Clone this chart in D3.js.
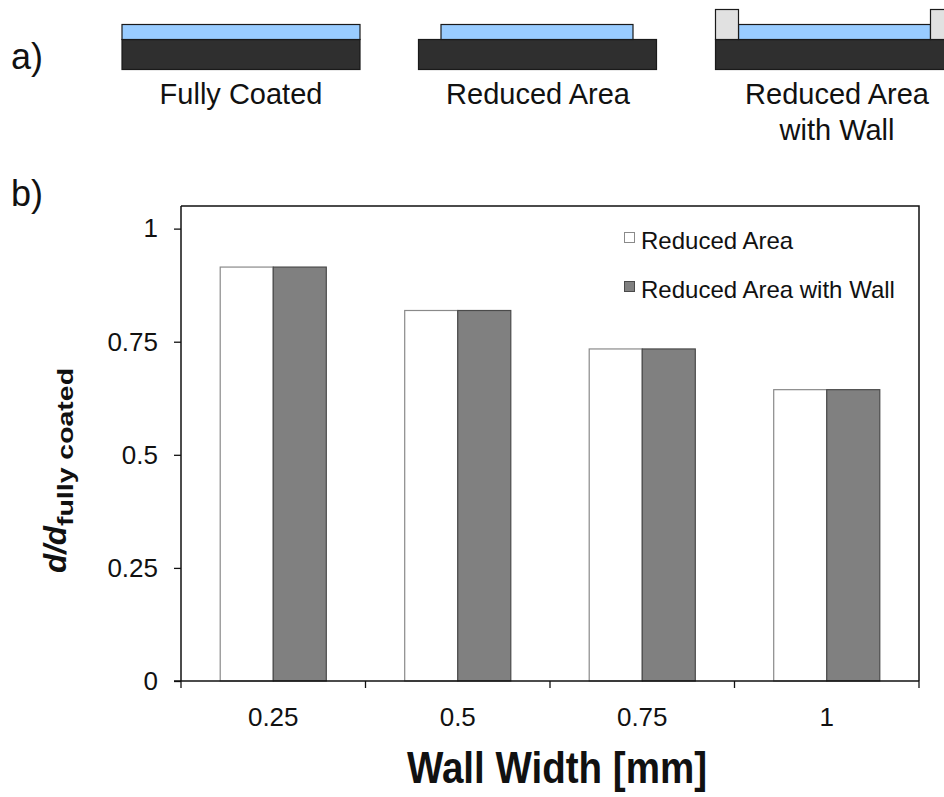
<!DOCTYPE html>
<html>
<head>
<meta charset="utf-8">
<script src="https://cdn.jsdelivr.net/npm/d3@7"></script>
<style>
  body { margin: 0; background: #fff; }
  svg { display: block; }
  text { font-family: "Liberation Sans", Arial, Helvetica, sans-serif; fill: #111; }
</style>
</head>
<body>
<svg id="chart" width="944" height="797"></svg>
<script>
// chart data
var categories = ["0.25", "0.5", "0.75", "1"];
var seriesNames = ["Reduced Area", "Reduced Area with Wall"];
var reducedArea = [0.915, 0.819, 0.734, 0.644];
var reducedAreaWall = [0.915, 0.819, 0.734, 0.644];
var yTicks = [0, 0.25, 0.5, 0.75, 1];
var yTickLabels = ["0", "0.25", "0.5", "0.75", "1"];
var sketchLabels = [["Fully Coated"], ["Reduced Area"], ["Reduced Area", "with Wall"]];

var svg = d3.select("#chart");

// ---- panel a: schematic sketches ----
svg.append("text").attr("x", 11).attr("y", 69).style("font-size", "36px").text("a)");
svg.append("text").attr("x", 11).attr("y", 206).style("font-size", "36px").text("b)");

var ink = "#1a1a1a", blue = "#99ccff", dark = "#2f2f2f", wall = "#e1e1e1";
var sk = svg.append("g").attr("class", "sketches");

// fully coated
sk.append("rect").attr("x", 122).attr("y", 39.5).attr("width", 238).attr("height", 30)
  .attr("fill", dark).attr("stroke", ink).attr("stroke-width", 1.2);
sk.append("rect").attr("x", 122).attr("y", 24.5).attr("width", 238).attr("height", 15)
  .attr("fill", blue).attr("stroke", ink).attr("stroke-width", 1.2);

// reduced area
sk.append("rect").attr("x", 418.5).attr("y", 39.5).attr("width", 238).attr("height", 30)
  .attr("fill", dark).attr("stroke", ink).attr("stroke-width", 1.2);
sk.append("rect").attr("x", 441).attr("y", 24.5).attr("width", 192).attr("height", 15)
  .attr("fill", blue).attr("stroke", ink).attr("stroke-width", 1.2);

// reduced area with wall
sk.append("rect").attr("x", 715.5).attr("y", 39.5).attr("width", 238).attr("height", 30)
  .attr("fill", dark).attr("stroke", ink).attr("stroke-width", 1.2);
sk.append("rect").attr("x", 738.5).attr("y", 24.5).attr("width", 192).attr("height", 15)
  .attr("fill", blue).attr("stroke", ink).attr("stroke-width", 1.2);
sk.append("rect").attr("x", 715.5).attr("y", 9.5).attr("width", 23).attr("height", 30)
  .attr("fill", wall).attr("stroke", ink).attr("stroke-width", 1.2);
sk.append("rect").attr("x", 930.5).attr("y", 9.5).attr("width", 23).attr("height", 30)
  .attr("fill", wall).attr("stroke", ink).attr("stroke-width", 1.2);

var labelX = [241, 538, 837];
sketchLabels.forEach(function(lines, i) {
  lines.forEach(function(l, j) {
    svg.append("text").attr("x", labelX[i]).attr("y", 104 + j * 36)
      .attr("text-anchor", "middle").style("font-size", "29px").text(l);
  });
});

// ---- panel b: bar chart ----
var plotLeft = 181, plotTop = 206, plotW = 738, plotH = 475;
var g = svg.append("g").attr("transform", "translate(" + plotLeft + "," + plotTop + ")");

var x0 = d3.scaleBand().domain(categories).range([0, plotW]).padding(0);
var inset = x0.bandwidth() * 0.2125;
var x1 = d3.scaleBand().domain(seriesNames).range([inset, x0.bandwidth() - inset]).padding(0);
var y = d3.scaleLinear().domain([0, 1.05]).range([plotH, 0]);

var colors = { "Reduced Area": "#ffffff", "Reduced Area with Wall": "#808080" };
var strokes = { "Reduced Area": "#8a8a8a", "Reduced Area with Wall": "#4a4a4a" };

var rows = categories.map(function(c, i) {
  return { cat: c, vals: [
    { name: seriesNames[0], v: reducedArea[i] },
    { name: seriesNames[1], v: reducedAreaWall[i] }
  ]};
});

var grp = g.selectAll(".grp").data(rows).enter().append("g")
  .attr("transform", function(d) { return "translate(" + x0(d.cat) + ",0)"; });

grp.selectAll("rect").data(function(d) { return d.vals; }).enter().append("rect")
  .attr("x", function(d) { return x1(d.name); })
  .attr("y", function(d) { return y(d.v); })
  .attr("width", x1.bandwidth())
  .attr("height", function(d) { return plotH - y(d.v); })
  .attr("fill", function(d) { return colors[d.name]; })
  .attr("stroke", function(d) { return strokes[d.name]; })
  .attr("stroke-width", 1.2);

// frame (top + right)
g.append("path").attr("d", "M0,0H" + plotW + "V" + plotH)
  .attr("fill", "none").attr("stroke", "#111").attr("stroke-width", 1.5);

// y axis
var yAxis = d3.axisLeft(y).tickValues(yTicks)
  .tickFormat(function(d, i) { return yTickLabels[i]; })
  .tickSize(7).tickPadding(16);
var ya = g.append("g").call(yAxis);
ya.select(".domain").attr("d", "M0," + plotH + "V0").attr("stroke", "#111").attr("stroke-width", 1.5);
ya.selectAll(".tick line").attr("stroke", "#111").attr("stroke-width", 1.3);
ya.selectAll(".tick text").style("font-size", "26px").style("font-family", "Liberation Sans, Arial, sans-serif").attr("fill", "#111");

// x axis: ticks at category boundaries, labels centred
var xa = g.append("g").attr("transform", "translate(0," + plotH + ")");
xa.append("line").attr("x1", -7).attr("x2", plotW).attr("stroke", "#111").attr("stroke-width", 1.5);
var bounds = categories.map(function(c) { return x0(c); }).concat([plotW]);
xa.selectAll(".xt").data(bounds).enter().append("line")
  .attr("x1", function(d) { return d; }).attr("x2", function(d) { return d; })
  .attr("y1", 0).attr("y2", 7).attr("stroke", "#111").attr("stroke-width", 1.3);
xa.selectAll(".xl").data(categories).enter().append("text")
  .attr("x", function(d) { return x0(d) + x0.bandwidth() / 2; })
  .attr("y", 45).attr("text-anchor", "middle").style("font-size", "26px")
  .text(function(d) { return d; });

// axis titles
svg.append("text").attr("x", 557).attr("y", 783).attr("text-anchor", "middle")
  .attr("textLength", 300).attr("lengthAdjust", "spacingAndGlyphs")
  .style("font-size", "44px").style("font-weight", "bold").text("Wall Width [mm]");

var yt = svg.append("text").attr("transform", "translate(66,573) rotate(-90)");
yt.append("tspan").style("font-size", "32px").style("font-weight", "bold").style("font-style", "italic")
  .attr("textLength", 47).attr("lengthAdjust", "spacingAndGlyphs").text("d/d");
yt.append("tspan").attr("dy", 7).style("font-size", "22px").style("font-weight", "bold")
  .attr("textLength", 158).attr("lengthAdjust", "spacingAndGlyphs").text("fully coated");

// legend
var leg = svg.append("g");
seriesNames.forEach(function(n, i) {
  var ly = 232 + i * 49;
  leg.append("rect").attr("x", 624.5).attr("y", ly + 0.5).attr("width", 10).attr("height", 10)
    .attr("fill", colors[n]).attr("stroke", strokes[n]).attr("stroke-width", 1);
  leg.append("text").attr("x", 641).attr("y", ly + 17).style("font-size", "24px").text(n);
});
</script>
</body>
</html>
